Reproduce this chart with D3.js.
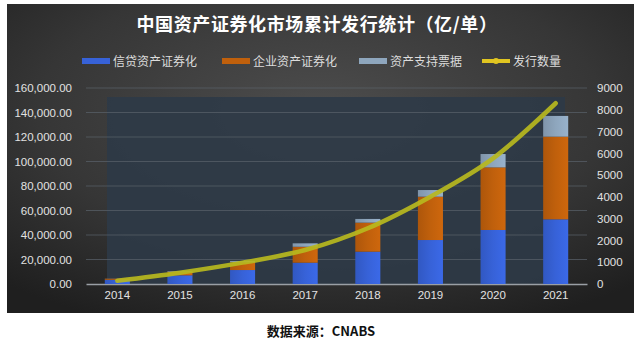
<!DOCTYPE html>
<html>
<head>
<meta charset="utf-8">
<script src="https://cdn.jsdelivr.net/npm/d3@7.9.0/dist/d3.min.js"></script>
<style>
  html, body { margin: 0; padding: 0; background: #fff; }
  svg { display: block; }
</style>
</head>
<body>
<svg id="chart" width="640" height="346"></svg>
<script>
// 累计发行规模（亿元）与发行数量（单）
const years = ['2014', '2015', '2016', '2017', '2018', '2019', '2020', '2021'];
const creditAbs = [3400, 7100, 11400, 17400, 26400, 35900, 44100, 52800];
const corpAbs = [900, 3000, 6300, 13000, 23700, 35400, 51100, 67500];
const abn = [100, 500, 1100, 2800, 3000, 5400, 10900, 16900];
const issueCount = [150, 520, 980, 1560, 2560, 4010, 5770, 8300];

const leftTicks = [0, 20000, 40000, 60000, 80000, 100000, 120000, 140000, 160000];
const rightTicks = [0, 1000, 2000, 3000, 4000, 5000, 6000, 7000, 8000, 9000];

const seriesNames = ['信贷资产证券化', '企业资产证券化', '资产支持票据', '发行数量'];
const seriesColors = ['#3762d8', '#c0600c', '#8ea6bd', '#b7b81e'];

const svg = d3.select('#chart');
const defs = svg.append('defs');

// 背景面板：中间偏亮的径向渐变
const bg = defs.append('radialGradient').attr('id', 'panelBg')
  .attr('cx', '50%').attr('cy', '35%').attr('r', '75%');
bg.append('stop').attr('offset', '0%').attr('stop-color', '#4d4d4d');
bg.append('stop').attr('offset', '60%').attr('stop-color', '#363636');
bg.append('stop').attr('offset', '100%').attr('stop-color', '#1f1f1f');

svg.append('rect')
  .attr('x', 7).attr('y', 4).attr('width', 627).attr('height', 309)
  .attr('fill', 'url(#panelBg)');

// 柱子的竖向渐变
function barGrad(id, c) {
  const g = defs.append('linearGradient').attr('id', id)
    .attr('x1', 0).attr('x2', 1).attr('y1', 0).attr('y2', 0);
  g.append('stop').attr('offset', '0%').attr('stop-color', d3.color(c).darker(0.3));
  g.append('stop').attr('offset', '50%').attr('stop-color', c);
  g.append('stop').attr('offset', '100%').attr('stop-color', d3.color(c).brighter(0.2));
}
seriesColors.slice(0, 3).forEach((c, i) => barGrad('bar' + i, c));

const x = d3.scaleBand().domain(years).range([86, 587])
  .paddingInner(0.6).paddingOuter(0.3);
const yL = d3.scaleLinear().domain([0, 160000]).range([284, 88]);
const yR = d3.scaleLinear().domain([0, 9000]).range([284, 88]);

// 绘图区底色
svg.append('rect')
  .attr('x', 107).attr('y', 97).attr('width', 458).attr('height', 187)
  .attr('fill', '#2e3a47').attr('opacity', 0.9);

// 网格线
svg.append('g')
  .selectAll('line')
  .data(leftTicks.slice(1))
  .join('line')
  .attr('x1', 86).attr('x2', 587)
  .attr('y1', d => yL(d)).attr('y2', d => yL(d))
  .attr('stroke', '#5a626b').attr('stroke-width', 1).attr('opacity', 0.7);

// 左轴
const fmt = d3.format(',.2f');
const leftAxis = svg.append('g')
  .attr('transform', 'translate(80,0)')
  .call(d3.axisLeft(yL).tickValues(leftTicks).tickFormat(fmt).tickSize(0).tickPadding(8));
leftAxis.select('.domain').remove();

// 右轴
const rightAxis = svg.append('g')
  .attr('transform', 'translate(590,0)')
  .call(d3.axisRight(yR).tickValues(rightTicks).tickFormat(d3.format('d')).tickSize(0).tickPadding(7));
rightAxis.select('.domain').remove();

// 横轴
const bottomAxis = svg.append('g')
  .attr('transform', 'translate(0,284)')
  .call(d3.axisBottom(x).tickSize(0).tickPadding(7));
bottomAxis.select('.domain').attr('stroke', '#9a9fa5').attr('stroke-width', 1.5);

svg.selectAll('.tick text')
  .attr('fill', '#e2e2e2')
  .style('font-family', '"Liberation Sans", Arial, sans-serif')
  .style('font-size', '11.5px');

// 堆叠柱
const rows = years.map((yr, i) => ({ year: yr, a: creditAbs[i], b: corpAbs[i], c: abn[i] }));
const stacked = d3.stack().keys(['a', 'b', 'c'])(rows);

svg.append('g')
  .selectAll('g')
  .data(stacked)
  .join('g')
  .attr('fill', (d, i) => 'url(#bar' + i + ')')
  .selectAll('rect')
  .data(d => d)
  .join('rect')
  .attr('x', d => x(d.data.year))
  .attr('width', x.bandwidth())
  .attr('y', d => yL(d[1]))
  .attr('height', d => yL(d[0]) - yL(d[1]));

// 发行数量折线
const line = d3.line()
  .x((d, i) => x(years[i]) + x.bandwidth() / 2)
  .y(d => yR(d))
  .curve(d3.curveMonotoneX);

svg.append('path')
  .datum(issueCount)
  .attr('d', line)
  .attr('fill', 'none')
  .attr('stroke', seriesColors[3])
  .attr('stroke-width', 4.5)
  .attr('stroke-linecap', 'round')
  .attr('opacity', 0.92);

// 标题
svg.append('text')
  .attr('x', 317).attr('y', 31)
  .attr('text-anchor', 'middle')
  .attr('fill', '#ffffff')
  .style('font-family', '"Noto Sans CJK SC", sans-serif')
  .style('font-weight', 'bold')
  .style('font-size', '18px')
  .style('letter-spacing', '0.6px')
  .text('中国资产证券化市场累计发行统计（亿/单）');

// 图例
const legendX = [82, 222, 359, 482];
const legend = svg.append('g')
  .selectAll('g')
  .data(seriesNames)
  .join('g')
  .attr('transform', (d, i) => `translate(${legendX[i]},61)`);

legend.each(function (d, i) {
  const g = d3.select(this);
  if (i < 3) {
    g.append('rect').attr('x', 0).attr('y', -3).attr('width', 28).attr('height', 6)
      .attr('fill', seriesColors[i]);
  } else {
    g.append('line').attr('x1', 0).attr('x2', 28).attr('y1', 0).attr('y2', 0)
      .attr('stroke', '#e0c521').attr('stroke-width', 4);
    g.append('circle').attr('cx', 14).attr('cy', 0).attr('r', 3).attr('fill', '#e0c521');
  }
  g.append('text')
    .attr('x', 31).attr('y', 4.5)
    .attr('fill', '#dcdcdc')
    .style('font-family', '"Noto Sans CJK SC", sans-serif')
    .style('font-size', '12px')
    .text(d);
});

// 数据来源
svg.append('text')
  .attr('x', 321).attr('y', 336)
  .attr('text-anchor', 'middle')
  .attr('fill', '#111')
  .style('font-family', '"Noto Sans CJK SC", sans-serif')
  .style('font-weight', 'bold')
  .style('font-size', '13px')
  .text('数据来源：CNABS');
</script>
</body>
</html>
